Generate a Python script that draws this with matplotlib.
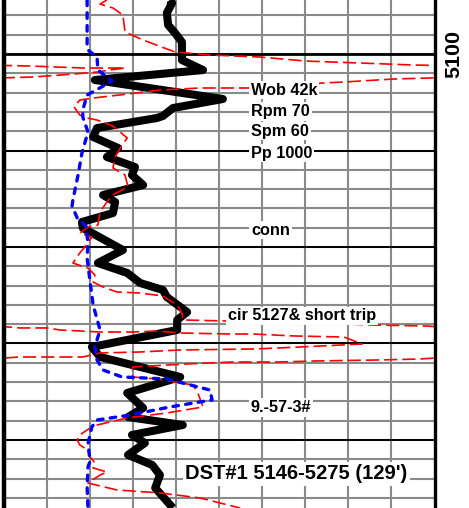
import numpy as np
import matplotlib
matplotlib.use("Agg")
import matplotlib.pyplot as plt
from matplotlib import font_manager

# ---------------------------------------------------------------- data
# Depths in feet, curve readings in track divisions (10 divisions across).
rop_depth = [5094.40, 5094.72, 5095.75, 5096.99, 5097.82, 5098.76, 5100.10, 5100.62,
             5101.66, 5102.69, 5104.66, 5105.60, 5106.42, 5106.63, 5107.67, 5108.60,
             5109.74, 5110.67, 5111.71, 5112.54, 5113.58, 5114.61, 5115.34, 5116.48,
             5117.41, 5118.03, 5120.31, 5121.66, 5122.69, 5123.73, 5124.46, 5125.18,
             5126.74, 5127.56, 5128.60, 5130.36, 5131.40, 5133.47, 5135.13, 5136.68,
             5137.62, 5138.45, 5139.48, 5140.31, 5141.55, 5142.59, 5143.63, 5144.97,
             5147.05]
rop_value = [3.86, 3.91, 3.79, 3.82, 3.98, 4.14, 4.14, 4.14,
             4.63, 2.12, 5.09, 3.93, 3.70, 3.56, 2.17, 2.08,
             2.66, 2.40, 3.05, 2.98, 3.24, 2.31, 2.59, 2.54,
             1.82, 1.84, 2.77, 2.19, 2.87, 3.17, 3.70, 3.79,
             4.26, 4.03, 4.03, 2.05, 2.24, 4.10, 2.87, 3.24,
             2.89, 4.16, 2.98, 3.28, 2.89, 3.45, 3.63, 3.52,
             3.93]

c1_depth = [5094.40, 5099.07, 5099.59, 5100.31, 5101.66, 5102.80, 5104.25, 5105.80,
            5106.53, 5108.08, 5110.26, 5112.54, 5115.13, 5115.75, 5116.99, 5117.82,
            5119.59, 5121.14, 5123.63, 5126.01, 5128.60, 5130.36, 5131.71, 5132.75,
            5133.47, 5133.68, 5134.82, 5135.85, 5136.58, 5137.41, 5137.93, 5138.65,
            5140.41, 5142.18, 5142.80, 5144.87, 5147.05]
c1_value = [1.94, 1.94, 1.96, 2.17, 2.19, 2.52, 1.94, 1.84,
            1.84, 1.96, 1.82, 1.73, 1.61, 1.59, 1.71, 1.91,
            1.96, 1.94, 2.01, 2.08, 2.24, 2.12, 2.17, 2.31,
            2.75, 3.79, 4.79, 4.84, 3.86, 2.94, 2.17, 2.05,
            1.96, 2.01, 1.96, 1.94, 1.96]

# total gas; readings above 10 divisions wrap back onto the track
gas_depth = [5094.40, 5094.82, 5095.23, 5095.96, 5097.72, 5098.55, 5099.79, 5100.10,
             5100.31, 5100.73, 5100.93, 5101.14, 5101.24, 5101.45, 5101.45, 5101.66,
             5101.87, 5102.18, 5102.38, 5102.59, 5102.69, 5102.90, 5103.01, 5103.21,
             5103.32, 5103.52, 5103.52, 5103.73, 5104.15, 5104.56, 5104.77, 5105.49,
             5106.32, 5106.63, 5106.84, 5107.46, 5108.70, 5109.43, 5110.67, 5111.81,
             5112.54, 5113.78, 5114.61, 5115.65, 5116.37, 5117.72, 5117.93, 5118.55,
             5118.96, 5119.59, 5120.62, 5121.66, 5122.18, 5122.90, 5123.63, 5124.15,
             5124.66, 5124.77, 5125.08, 5126.01, 5126.84, 5127.56, 5127.67, 5127.78,
             5128.08, 5128.19, 5128.39, 5128.39, 5128.60, 5128.81, 5128.81, 5128.70,
             5128.91, 5129.02, 5129.02, 5129.22, 5129.33, 5130.05, 5130.36, 5130.57,
             5130.67, 5130.88, 5130.98, 5131.40, 5131.40, 5131.40, 5131.61, 5131.71,
             5131.81, 5131.92, 5131.92, 5132.12, 5132.43, 5133.16, 5133.47, 5133.68,
             5134.30, 5135.13, 5136.58, 5137.20, 5137.72, 5138.45, 5138.96, 5139.48,
             5140.00, 5140.52, 5141.04, 5141.76, 5142.38, 5142.90, 5143.32, 5143.63,
             5144.46, 5145.18, 5145.49, 5146.01, 5147.05]
gas_value = [2.40, 2.24, 2.54, 2.77, 2.82, 3.24, 3.98, 4.79,
             5.95, 7.02, 8.27, 9.52, 10.61, 11.84, 12.82, 12.47,
             12.17, 11.31, 10.68, 9.06, 8.67, 7.90, 7.37, 7.13,
             6.21, 5.74, 4.56, 3.63, 2.87, 2.08, 1.77, 1.64,
             1.77, 1.94, 2.17, 2.54, 2.87, 2.75, 2.59, 2.54,
             2.82, 2.89, 2.52, 2.35, 2.24, 2.19, 1.96, 1.77,
             2.05, 1.96, 1.77, 1.61, 1.96, 2.12, 2.08, 2.31,
             2.63, 3.17, 3.70, 4.03, 4.14, 4.16, 5.19, 6.88,
             8.53, 9.83, 10.38, 11.01, 11.31, 12.24, 13.00, 13.56,
             14.10, 15.32, 15.81, 16.74, 17.90, 18.32, 16.90, 15.81,
             14.10, 13.17, 12.24, 11.84, 11.15, 10.38, 9.66, 8.67,
             7.27, 6.35, 5.32, 4.26, 3.00, 2.98, 3.00, 3.56,
             4.40, 4.51, 4.63, 3.79, 2.87, 2.17, 1.94, 1.77,
             1.71, 1.77, 1.96, 2.01, 2.12, 2.08, 2.40, 2.24,
             1.96, 2.63, 3.63, 4.56, 5.49]

note_text = ["Wob 42k", "Rpm 70", "Spm 60", "Pp 1000", "conn",
             "cir 5127& short trip", "9.-57-3#"]
note_depth = [5103.73, 5105.91, 5107.98, 5110.26, 5118.24, 5127.15, 5136.68]
note_x = [5.74, 5.74, 5.74, 5.74, 5.74, 5.21, 5.74]

test_text = "DST#1 5146-5275 (129')"
test_depth = 5143.52
test_x = 4.21

depth_labels = [5100]

top_depth, bottom_depth = 5094.40, 5147.05

# ---------------------------------------------------------------- fonts
try:
    font_manager.findfont(font_manager.FontProperties(family="Liberation Sans Narrow",
                                                      weight="bold"),
                          fallback_to_default=False)
    FAMILY, FS = "Liberation Sans Narrow", 1.0
except ValueError:
    FAMILY, FS = "Liberation Sans", 0.835

plt.rcParams["lines.scale_dashes"] = False

# ---------------------------------------------------------------- figure
W, H = 469, 508
fig = plt.figure(figsize=(W / 100, H / 100), dpi=100)
left_px, right_px = 3.5, 434.5
ax = fig.add_axes([left_px / W, 0, (right_px - left_px) / W, 1])
ax.set_xlim(0, 10)
ax.set_ylim(bottom_depth, top_depth)

# grid: every division across, every 2 ft down
ax.set_xticks(np.arange(1, 10))
ax.set_yticks(np.arange(5096, 5147, 2))
ax.tick_params(length=0, labelleft=False, labelbottom=False)
ax.grid(True, color="#8a8a8a", linewidth=1.5, zorder=0)
ax.set_axisbelow(True)

# 10 ft lines
for d in range(5100, 5147, 10):
    ax.axhline(d, color="black", linewidth=2.0 if d % 100 == 0 else 1.4, zorder=1)

for side in ("top", "bottom"):
    ax.spines[side].set_visible(False)
ax.spines["left"].set_linewidth(3.2)
ax.spines["right"].set_linewidth(2.4)
ax.spines["left"].set_zorder(8)
ax.spines["right"].set_zorder(8)

# curves
ax.plot(rop_value, rop_depth, color="black", linewidth=5.8,
        solid_joinstyle="round", solid_capstyle="butt", zorder=3)

gas = np.asarray(gas_value)
for wrap in (0, 1):
    ax.plot(gas - 10 * wrap, gas_depth, color="#ff0000", linewidth=1.2,
            dashes=(9.5, 3.6), zorder=4)

ax.plot(c1_value, c1_depth, color="#0000ff", linewidth=2.4,
        dashes=(4.0, 5.2), dash_capstyle="round", zorder=5)

# remarks
box = dict(facecolor="white", edgecolor="none", boxstyle="square,pad=0.12")
for txt, d, x in zip(note_text, note_depth, note_x):
    ax.text(x, d, txt, family=FAMILY, weight="bold", fontsize=14 * FS,
            ha="left", va="center", bbox=box, zorder=6, clip_on=True)

ax.text(test_x, test_depth, test_text, family=FAMILY, weight="bold",
        fontsize=17.4 * FS, ha="left", va="center", bbox=box, zorder=6)

# depth scale in the right margin
for d in depth_labels:
    ax.text(1.045, d, str(d), transform=ax.get_yaxis_transform(),
            family=FAMILY, weight="bold", fontsize=18 * 0.86, rotation=90,
            ha="center", va="center", clip_on=False)

fig.savefig("out.png", dpi=100, facecolor="white")
